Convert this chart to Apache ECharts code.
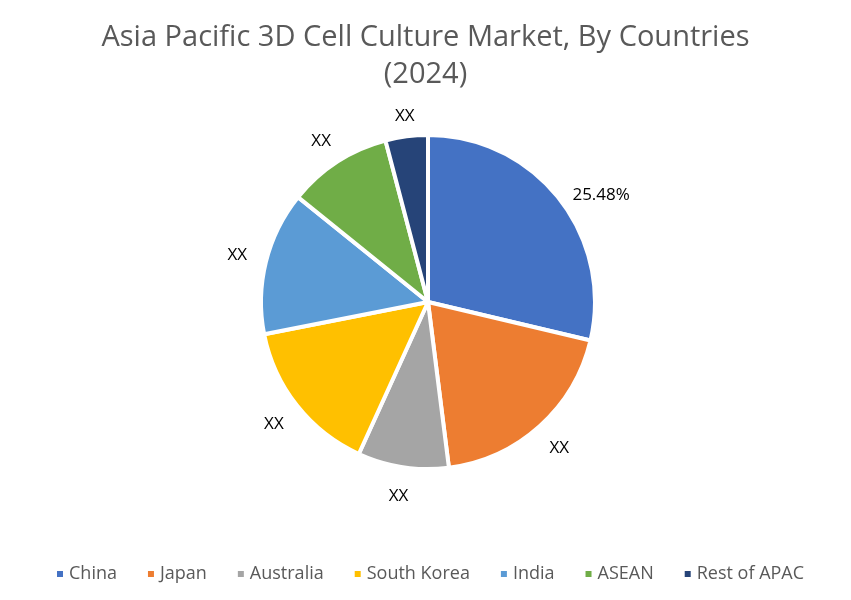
<!DOCTYPE html>
<html><head><meta charset="utf-8">
<script src="https://cdn.jsdelivr.net/npm/echarts@6/dist/echarts.min.js"></script>
<style>html,body{margin:0;padding:0;background:#fff}#c{width:851px;height:600px}</style>
</head><body><div id="c"></div>
<script>
const categories = ['China', 'Japan', 'Australia', 'South Korea', 'India', 'ASEAN', 'Rest of APAC'];
const values = [28.7, 19.3, 8.8, 15.1, 13.9, 10.1, 4.1];
const labelTexts = ['25.48%', 'XX', 'XX', 'XX', 'XX', 'XX', 'XX'];
const colors = ['#4472C4', '#ED7D31', '#A5A5A5', '#FFC000', '#5B9BD5', '#70AD47', '#264478'];
const titleLines = ['Asia Pacific 3D Cell Culture Market, By Countries', '(2024)'];

const font = 'Open Sans';
const chart = echarts.init(document.getElementById('c'), null, {renderer: 'canvas'});
const data = categories.map((n, i) => ({name: n, value: values[i], itemStyle: {color: colors[i]}}));
const labelNudge = {0: {dx: 19, dy: 15}, 6: {dx: 2, dy: 9}, 5: {dy: 4}};
chart.setOption({
  animation: false,
  title: {
    text: titleLines.join('\n'),
    left: 'center', top: 14,
    textStyle: {fontFamily: font, fontSize: 29, fontWeight: 'normal', color: '#595959', lineHeight: 37}
  },
  legend: {
    bottom: 12, left: 50,
    data: categories,
    icon: 'rect', itemWidth: 8, itemHeight: 8, itemGap: 29,
    textStyle: {fontFamily: font, fontSize: 18, color: '#595959'}
  },
  series: [{
    type: 'pie',
    center: [428, 302], radius: [0, 167],
    startAngle: 90, clockwise: true,
    data: data,
    label: {show: false}, labelLine: {show: false},
    itemStyle: {borderColor: '#fff', borderWidth: 4},
    emphasis: {disabled: true}
  }, {
    type: 'pie', silent: true,
    center: [428, 302], radius: [171, 216],
    startAngle: 90, clockwise: true,
    data: categories.map((n, i) => ({name: n, value: values[i], itemStyle: {color: 'rgba(0,0,0,0)'}})),
    itemStyle: {borderWidth: 0},
    label: {show: true, position: 'inside', fontFamily: font, fontSize: 17, color: '#000',
      formatter: p => labelTexts[p.dataIndex]},
    labelLayout: p => labelNudge[p.dataIndex] || {},
    labelLine: {show: false},
    emphasis: {disabled: true}
  }]
});
</script></body></html>
